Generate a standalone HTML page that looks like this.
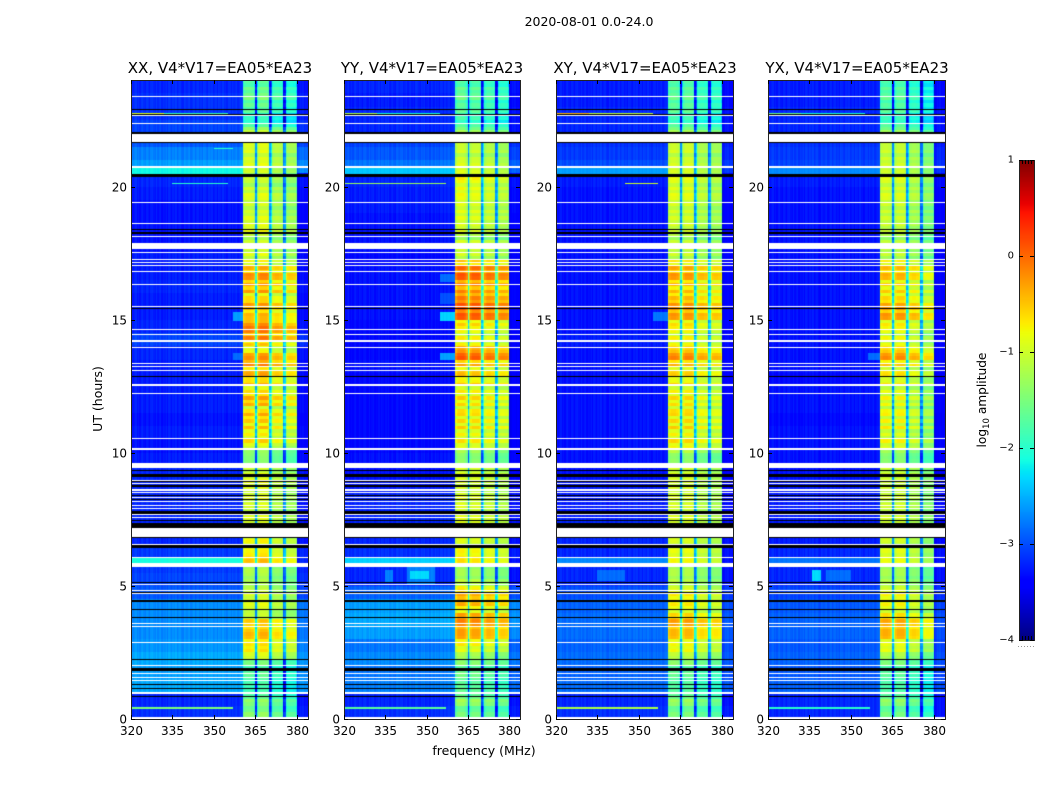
<!DOCTYPE html>
<html lang="en">
<head>
<meta charset="utf-8">
<title>2020-08-01 0.0-24.0</title>
<style>
html,body{margin:0;padding:0;background:#fff;}
#figure{position:relative;width:1050px;height:800px;overflow:hidden;background:#fff;}
canvas{position:absolute;display:block;}
svg{position:absolute;left:0;top:0;}
text{font-family:"DejaVu Sans","Liberation Sans",sans-serif;fill:#000;}
</style>
</head>
<body>
<div id="figure">
<canvas id="heat0" width="177" height="639" style="left:131px;top:80px"></canvas>
<canvas id="heat1" width="176" height="639" style="left:344px;top:80px"></canvas>
<canvas id="heat2" width="177" height="639" style="left:556px;top:80px"></canvas>
<canvas id="heat3" width="177" height="639" style="left:768px;top:80px"></canvas>
<canvas id="cbar" width="15" height="480" style="left:1019px;top:160px"></canvas>
<svg id="overlay" width="1050" height="800">
<text x="589" y="26" font-size="12.5" text-anchor="middle">2020-08-01 0.0-24.0</text>
<text x="220" y="73" font-size="15" text-anchor="middle">XX, V4*V17=EA05*EA23</text>
<text x="432" y="73" font-size="15" text-anchor="middle">YY, V4*V17=EA05*EA23</text>
<text x="645" y="73" font-size="15" text-anchor="middle">XY, V4*V17=EA05*EA23</text>
<text x="857" y="73" font-size="15" text-anchor="middle">YX, V4*V17=EA05*EA23</text>
<text x="484" y="755" font-size="12.5" text-anchor="middle">frequency (MHz)</text>
<text x="102" y="399" font-size="12.5" text-anchor="middle" transform="rotate(-90 102 399)">UT (hours)</text>
<text x="986" y="400" font-size="12.2" text-anchor="middle" transform="rotate(-90 986 400)">log<tspan dy="3" font-size="8.5">10</tspan><tspan dy="-3"> amplitude</tspan></text>
</svg>
</div>
<script>
/* ---------- axis tick labels ---------- */
const freqTicks = [320, 335, 350, 365, 380];
const hourTicks = [0, 5, 10, 15, 20];
const colorbarTicks = [1, 0, -1, -2, -3, -4];
const colorbarTickLabels = ["1", "0", "\u22121", "\u22122", "\u22123", "\u22124"];

/* ---------- flagged UT ranges, hours [from, to] ---------- */
const whiteFlags = [[23.36,23.40],[22.65,22.69],[22.35,22.39],[21.67,21.97],[20.69,20.77],[19.38,19.41],[18.59,18.62],[18.10,18.13],[17.64,17.87],[17.50,17.53],[17.24,17.27],[17.12,17.16],[17.01,17.04],[16.78,16.82],[16.29,16.33],[15.46,15.50],[14.60,14.64],[14.41,14.45],[14.15,14.22],[13.92,13.96],[13.32,13.36],[13.21,13.24],[13.06,13.09],[12.49,12.57],[12.19,12.23],[11.78,11.81],[10.53,10.57],[10.12,10.16],[9.44,9.63],[8.95,8.99],[8.84,8.88],[8.58,8.62],[8.50,8.54],[8.31,8.35],[8.16,8.20],[8.01,8.05],[7.90,7.94],[7.67,7.71],[7.56,7.60],[6.85,7.19],[6.55,6.58],[6.06,6.09],[5.72,5.87],[5.04,5.08],[4.81,4.85],[4.70,4.74],[3.57,3.61],[3.46,3.50],[2.86,2.90],[1.99,2.03],[1.69,1.73],[1.54,1.58],[1.43,1.47],[0.94,1.02],[0,0.07]];
const blackFlags = [[22.87,22.91],[22.69,22.72],[21.97,22.05],[21.63,21.67],[20.35,20.47],[18.36,18.40],[18.21,18.28],[15.39,15.42],[12.83,12.87],[9.33,9.37],[9.10,9.22],[8.92,8.95],[8.73,8.77],[8.39,8.43],[8.24,8.28],[7.71,7.83],[7.45,7.49],[7.19,7.37],[6.81,6.85],[6.43,6.55],[5.12,5.15],[4.74,4.78],[4.40,4.48],[4.10,4.14],[3.80,3.84],[2.22,2.26],[1.81,1.92],[1.28,1.32],[1.13,1.17],[0.83,0.87]];

/* ---------- per-channel offset (log10), 128 channels of 0.5 MHz from 320 MHz ---------- */
const channelOffset = [
 .05,-.04,.01,.06,-.05,.02,-.06,.04,.07,-.02,-.06,.05,.01,-.07,.04,.06,-.01,-.05,.07,-.04,
 .02,.06,-.06,.01,-.02,.05,-.07,.06,.02,-.05,.04,-.01,.07,-.06,.01,.05,-.04,-.07,.06,.02,
 -.02,.04,.07,-.05,-.01,.06,-.06,.02,.05,-.04,.01,-.07,.07,.04,-.02,-.06,.05,.01,.06,-.05,
 -.01,.04,-.07,.06,.02,-.04,.07,-.02,.01,-.06,.05,.04,-.05,.06,-.01,.02,.07,-.04,.01,.05,.06,
 -.15,0,.05,.05,.05,.05,0,-.05,-.2,-1.6,
 -.5,-.05,.05,.05,.05,.05,.05,0,-.1,-1.6,
 -1,-.1,0,.05,.05,.05,0,0,-.1,-1.6,
 -1.3,-.2,0,.03,.03,.03,0,0,-.25,
 -.35,-.15,-.05,-.1,-.05,-.15,-.1,-.15];
const subBandFirstChannel = [81, 91, 101, 111];
const bandEndChannel = 120;
const subBandGain = [
 [0, .05, -.2, -.3],
 [.05, 0, -.1, -.2],
 [.05, .05, -.15, -.2],
 [.05, .05, -.15, -.35]];

/* ---------- in-band log10 amplitude, one value per quarter hour from 0 UT ---------- */
const bandXX = [
 -1.45,-1.6,-1.5,-1.7, -1.9,-1.9,-1.7,-1.9, -1.6,-1.0,-.8,-.75, -.55,-.6,-.7,-1.1,
 -1.05,-1.0,-1.05,-1.1, -1.3,-1.3,-1.2,-.6, -.7,-.9,-.85,-1.0, -1,-.95,-1,-1.05,
 -1,-1,-1.05,-.9, -1.0,-1.05,-1.45,-1.5, -1.2,-.8,-.85,-.7, -.75,-.55,-.9,-.5,
 -.55,-.8,-.6,-.5, -.55,-.35,-.45,-.75, -.65,-.35,-.3,-.35, -.6,-.55,-.5,-.75,
 -.5,-.45,-.4,-.5, -.9,-1.0,-1.1,-1.1, -1.2,-.9,-1,-1.0, -1.1,-1.1,-1.0,-1.05,
 -1.2,-1.2,-1.05,-1.0, -1.1,-1.0,-1.0,-.9, -1.3,-1.9,-2.0,-1.8, -1.7,-1.6,-1.7,-1.8];
const bandYY = [
 -1.6,-1.7,-1.4,-1.6, -1.7,-1.8,-1.6,-1.8, -1.5,-1.3,-1.0,-.8, -.45,-.4,-.35,-.35,
 -.85,-.5,-.5,-.7, -1.2,-1.35,-1.3,-.8, -.8,-.9,-1.0,-1.0, -1,-.9,-1,-1,
 -1,-1,-1.1,-1, -1,-1,-1.4,-1.5, -1.1,-.9,-.9,-.8, -.85,-.8,-.9,-.75,
 -.8,-.9,-.7,-.65, -.7,-.55,-.15,-.2, -.9,-.95,-1,-.7, -.1,-.05,-.15,-.25,
 -.4,-.3,-.15,-.15, -.65,-1.1,-1.1,-1.05, -1.3,-1.0,-1.05,-1.0, -1.0,-1.05,-.95,-.9,
 -.95,-.9,-1,-1.05, -1.2,-1.1,-1.15,-1.1, -1.5,-1.9,-1.9,-1.8, -1.8,-1.7,-1.75,-1.85];
const bandXY = [
 -1.6,-1.7,-1.45,-1.65, -1.8,-1.85,-1.7,-1.85, -1.5,-1.2,-.95,-.9, -.6,-.55,-.5,-.65,
 -.95,-.85,-.85,-.95, -1.25,-1.3,-1.25,-.95, -.95,-1.0,-1.05,-1.05, -1.05,-1,-1.05,-1.05,
 -1.05,-1.05,-1.1,-1.05, -1.05,-1.05,-1.4,-1.5, -1.0,-.85,-.9,-.8, -.85,-.8,-.9,-.8,
 -.85,-.95,-.8,-.75, -.8,-.65,-.4,-.45, -.95,-1,-1,-.8, -.45,-.4,-.5,-.6,
 -.7,-.6,-.5,-.5, -.85,-1.15,-1.2,-1.15, -1.3,-1.1,-1.1,-1.1, -1.1,-1.1,-1.0,-1.0,
 -1.05,-1.05,-1.05,-1.1, -1.2,-1.1,-1.15,-1.15, -1.5,-1.9,-1.95,-1.8, -1.8,-1.75,-1.8,-1.85];
const bandYX = [
 -1.65,-1.75,-1.5,-1.7, -1.85,-1.9,-1.75,-1.9, -1.6,-1.3,-1.0,-.95, -.55,-.5,-.55,-.7,
 -1.0,-.9,-.9,-1.0, -1.3,-1.35,-1.3,-1.0, -1.0,-1.05,-1.1,-1.1, -1.1,-1.05,-1.1,-1.1,
 -1.1,-1.1,-1.15,-1.1, -1.1,-1.1,-1.45,-1.55, -1.15,-1.0,-1.05,-.95, -1.0,-.95,-1.05,-.95,
 -1.0,-1.05,-.9,-.85, -.9,-.75,-.45,-.5, -1.0,-1.05,-1.05,-.85, -.45,-.45,-.6,-.75,
 -.8,-.75,-.65,-.6, -.9,-1.2,-1.25,-1.2, -1.35,-1.15,-1.15,-1.15, -1.15,-1.15,-1.05,-1.05,
 -1.1,-1.1,-1.1,-1.15, -1.2,-1.15,-1.2,-1.2, -1.55,-1.9,-2.0,-1.85, -1.85,-1.8,-1.85,-1.9];

/* ---------- in-band row striping shared by all panels, one estimate per eighth of an hour from 0 UT ---------- */
const bandRowDetail = [
 0,.05,0,-.05,0,.1,0,-.1,  0,-.05,.05,0,-.05,0,.05,0,  .05,0,-.05,.05,.1,0,.05,-.05,
 .05,.1,.05,-.1,.1,.15,-.05,0,  -.1,.05,.1,0,-.05,.1,0,-.1,  0,.05,-.05,.05,0,-.1,.05,.1,
 .05,-.05,.1,0,-.1,.05,0,0,  .1,-.1,.05,-.05,.1,0,-.1,.05,  .05,-.1,.1,-.05,0,.1,-.1,.05,
 0,.1,-.1,.05,0,-.05,0,.05,  -.2,.15,-.1,.2,-.15,.1,-.2,.2,  -.15,.2,-.2,.15,.2,-.2,.1,-.15,
 .2,-.2,.15,-.15,.2,-.1,-.2,.15,  .15,-.2,.2,-.1,.2,.1,-.1,-.2,  .1,-.15,.2,-.2,.15,.2,.1,-.15,
 .1,.15,-.2,.1,.2,-.15,.1,-.2,  .2,-.15,.15,-.2,.15,.2,-.2,.1,  -.1,.1,-.15,.1,-.05,.1,-.1,.05,
 -.1,.1,.05,-.1,.1,-.05,.1,-.1,  .1,-.1,.1,-.05,.05,.1,-.1,.05,  -.1,.1,.15,-.1,.05,-.05,.1,0,
 .15,-.05,.1,0,.05,.15,.1,-.1,  .2,-.1,.1,-.15,.05,-.1,.1,-.05,  .05,-.1,.1,0,-.05,.1,-.05,.05];

/* ---------- off-band log10 amplitude, one value per half hour from 0 UT ---------- */
const backgroundXX = [
 -3.15,-3.2,-2.55,-2.6,-2.55,-2.65, -2.7,-2.7,-2.7,-2.95,-3.05,-3.1,
 -3.1,-3.2,-3.2,-3.2,-3.2,-3.2, -3.2,-3.25,-3.3,-3.25,-3.3,-3.25,
 -3.25,-3.25,-3.25,-3.2,-3.05,-3.2, -3.25,-3.25,-3.2,-3.25,-3.25,-3.3,
 -3.3,-3.3,-3.3,-3.25,-3.2,-2.6, -2.75,-2.95,-3.05,-3.15,-3.15,-3.2];
const backgroundYY = [
 -3.15,-3.2,-2.75,-2.8,-2.7,-2.8, -2.6,-2.55,-2.6,-2.9,-3.2,-3.2,
 -3.15,-3.2,-3.2,-3.2,-3.2,-3.25, -3.3,-3.3,-3.35,-3.35,-3.35,-3.35,
 -3.35,-3.35,-3.3,-3.35,-3.35,-3.35, -3.3,-3.3,-3.3,-3.3,-3.35,-3.3,
 -3.3,-3.3,-3.25,-3.25,-3.2,-2.8, -2.95,-3.05,-3.2,-3.2,-3.25,-3.2];
const backgroundXY = [
 -3.15,-3.2,-2.85,-2.9,-2.85,-2.9, -2.85,-2.85,-2.9,-3.0,-3.2,-3.2,
 -3.2,-3.2,-3.2,-3.25,-3.25,-3.25, -3.3,-3.3,-3.3,-3.3,-3.3,-3.3,
 -3.3,-3.3,-3.3,-3.3,-3.25,-3.3, -3.3,-3.3,-3.3,-3.3,-3.3,-3.3,
 -3.3,-3.3,-3.3,-3.3,-3.25,-3.0, -3.1,-3.15,-3.2,-3.2,-3.25,-3.25];
const backgroundYX = [
 -3.2,-3.2,-2.9,-2.95,-2.9,-2.95, -2.9,-2.9,-2.95,-3.05,-3.2,-3.2,
 -3.2,-3.25,-3.25,-3.25,-3.25,-3.25, -3.3,-3.3,-3.3,-3.3,-3.35,-3.3,
 -3.3,-3.35,-3.3,-3.3,-3.3,-3.3, -3.3,-3.3,-3.3,-3.3,-3.3,-3.3,
 -3.3,-3.3,-3.3,-3.3,-3.25,-3.05, -3.1,-3.15,-3.2,-3.2,-3.25,-3.25];

/* ---------- localised features: [panel, hourFrom, hourTo, freqFrom, freqTo, log10 amplitude]; first match wins ---------- */
const interferencePatches = [
 [0,5.87,6.06,320,360.5,-2.1],[1,5.87,6.06,320,360.5,-2.35],[2,5.87,6.06,320,360.5,-2.7],[3,5.87,6.06,320,360.5,-2.8],
 [0,20.47,20.69,320,360.5,-2.15],[1,20.47,20.69,320,360.5,-2.4],[2,20.47,20.69,320,360.5,-2.6],[3,20.47,20.69,320,360.5,-2.7],
 [0,22.70,22.76,320,332,-.9],[0,22.70,22.76,332,355,-1.9],[0,0.38,0.44,320,357,-1.5],[0,20.08,20.14,335,355,-2],[0,21.40,21.46,350,357,-2],
 [1,22.70,22.76,320,332,-1.2],[1,22.70,22.76,332,355,-2.1],[1,20.08,20.14,320,357,-1.3],[1,0.38,0.44,320,357,-1.7],
 [2,22.70,22.76,320,332,-.4],[2,22.70,22.76,332,355,-1.1],[2,20.08,20.14,345,357,-1],[2,0.38,0.44,320,357,-1.2],
 [3,22.70,22.76,320,332,-1.6],[3,22.70,22.76,332,355,-2.1],[3,0.38,0.44,320,357,-2],
 [0,13.5,13.75,357,360.5,-2.85],[0,14.95,15.3,357,360.5,-2.6],
 [1,5.25,5.55,344,351,-2.3],[1,5.05,5.75,343,353,-2.75],[1,5.15,5.6,335,338,-2.75],
 [1,13.5,13.75,355,360.5,-2.6],[1,14.95,15.3,355,360.5,-2.35],[1,16.4,16.7,355,360.5,-2.85],[1,15.6,16,355,360.5,-3],
 [2,5.2,5.6,335,345,-2.85],[2,14.95,15.3,355,360.5,-2.8],
 [3,5.2,5.6,336,339,-2.3],[3,5.2,5.6,341,350,-2.85],[3,13.5,13.75,356,360.5,-2.85]];

const bandByPanel = [bandXX, bandYY, bandXY, bandYX];
const backgroundByPanel = [backgroundXX, backgroundYY, backgroundXY, backgroundYX];

/* ---------- scales ---------- */
const axesLeft = [131, 344, 556, 768];
const axesWidths = [177, 176, 177, 177];
const axesTop = 80, axesHeight = 639;
const FREQ_MIN = 320, FREQ_MAX = 384, HOUR_MAX = 24, VALUE_MIN = -4, VALUE_MAX = 1;
const CB_LEFT = 1019, CB_TOP = 160, CB_WIDTH = 15, CB_HEIGHT = 480;
function xScale(f, w){return (f - FREQ_MIN) / (FREQ_MAX - FREQ_MIN) * w;}
function yScale(h){return axesHeight - h / HOUR_MAX * axesHeight;}
function xInvert(px, w){return FREQ_MIN + px / w * (FREQ_MAX - FREQ_MIN);}
function yInvert(px){return (axesHeight - px) / axesHeight * HOUR_MAX;}
function cbScale(v){return CB_TOP + (VALUE_MAX - v) / (VALUE_MAX - VALUE_MIN) * CB_HEIGHT;}

/* matplotlib jet colormap */
function segment(pts, t){
  for(let i = 1; i < pts.length; i++){
    if(t <= pts[i][0]){
      const a = pts[i-1], b = pts[i];
      return a[1] + (b[1]-a[1]) * (t-a[0]) / (b[0]-a[0]);
    }
  }
  return pts[pts.length-1][1];
}
function jet(v){
  const t = Math.min(1, Math.max(0, (v - VALUE_MIN) / (VALUE_MAX - VALUE_MIN)));
  return [
    255 * segment([[0,0],[.35,0],[.66,1],[.89,1],[1,.5]], t),
    255 * segment([[0,0],[.125,0],[.375,1],[.64,1],[.91,0],[1,0]], t),
    255 * segment([[0,.5],[.11,1],[.34,1],[.65,0],[1,0]], t)
  ];
}
function inRanges(ranges, h){
  for(const r of ranges){ if(h >= r[0] && h < r[1]) return true; }
  return false;
}
function cellValue(panel, h, f){
  const ch = Math.min(channelOffset.length - 1, Math.floor((f - FREQ_MIN) / 0.5));
  if(ch >= subBandFirstChannel[0] && ch < bandEndChannel){
    let sub = 0;
    for(let s = 0; s < subBandFirstChannel.length; s++){ if(ch >= subBandFirstChannel[s]) sub = s; }
    const series = bandByPanel[panel];
    const level = series[Math.min(series.length - 1, Math.floor(h * 4))];
    const detail = bandRowDetail[Math.min(bandRowDetail.length - 1, Math.floor(h * 8))];
    return level + detail + subBandGain[panel][sub] + channelOffset[ch];
  }
  for(const p of interferencePatches){
    if(p[0] === panel && h >= p[1] && h < p[2] && f >= p[3] && f < p[4]) return p[5] + channelOffset[ch] * 0.5;
  }
  const bg = backgroundByPanel[panel];
  return bg[Math.min(bg.length - 1, Math.floor(h * 2))] + channelOffset[ch];
}
function drawPanel(panel){
  const w = axesWidths[panel];
  const ctx = document.getElementById('heat' + panel).getContext('2d');
  const img = ctx.createImageData(w, axesHeight);
  for(let row = 0; row < axesHeight; row++){
    const h = yInvert(row + .5);
    const white = inRanges(whiteFlags, h), black = inRanges(blackFlags, h);
    for(let col = 0; col < w; col++){
      const k = (row * w + col) * 4;
      let c;
      if(white) c = [255,255,255];
      else if(black) c = [0,0,0];
      else c = jet(cellValue(panel, h, xInvert(col + .5, w)));
      img.data[k] = c[0]; img.data[k+1] = c[1]; img.data[k+2] = c[2]; img.data[k+3] = 255;
    }
  }
  ctx.putImageData(img, 0, 0);
}
function drawColorbar(){
  const ctx = document.getElementById('cbar').getContext('2d');
  for(let r = 0; r < CB_HEIGHT; r++){
    const v = VALUE_MAX - (r + .5) / CB_HEIGHT * (VALUE_MAX - VALUE_MIN);
    const c = jet(v);
    ctx.fillStyle = 'rgb(' + Math.round(c[0]) + ',' + Math.round(c[1]) + ',' + Math.round(c[2]) + ')';
    ctx.fillRect(0, r, CB_WIDTH, 1);
  }
}

/* ---------- overlay helpers ---------- */
const overlay = document.getElementById('overlay');
const NS = 'http://www.w3.org/2000/svg';
function line(x1, y1, x2, y2){
  const el = document.createElementNS(NS, 'line');
  el.setAttribute('x1', x1); el.setAttribute('y1', y1);
  el.setAttribute('x2', x2); el.setAttribute('y2', y2);
  el.setAttribute('stroke', '#000');
  el.setAttribute('stroke-width', '1');
  overlay.appendChild(el);
  return el;
}
function label(x, y, str, anchor){
  const el = document.createElementNS(NS, 'text');
  el.setAttribute('x', x); el.setAttribute('y', y);
  el.setAttribute('font-size', '12');
  el.setAttribute('text-anchor', anchor);
  el.textContent = str;
  overlay.appendChild(el);
  return el;
}
function drawAxes(panel){
  const w = axesWidths[panel];
  const L = axesLeft[panel], T = axesTop, B = axesTop + axesHeight, R = L + w;
  const frame = document.createElementNS(NS, 'rect');
  
  
  frame.setAttribute('x', L + .5); frame.setAttribute('y', T + .5);
  frame.setAttribute('width', w); frame.setAttribute('height', axesHeight);
  frame.setAttribute('fill', 'none');
  frame.setAttribute('stroke', '#222');
  overlay.appendChild(frame);
  for(const f of freqTicks){
    const x = Math.round(L + xScale(f, w)) + .5;
    const bottomTick = line(x, B, x, B - 4);
    
    
    const topTick = line(x, T, x, T + 4);
    
    
    const t = label(x, B + 16, String(f), 'middle');
    
    
  }
  for(const h of hourTicks){
    const y = Math.round(T + yScale(h)) + .5;
    const leftTick = line(L, y, L + 4, y);
    
    
    const rightTick = line(R, y, R - 4, y);
    
    
    const t = label(L - 4, y + 4, String(h), 'end');
    
    
  }
}
function drawColorbarAxis(){
  const frame = document.createElementNS(NS, 'rect');
  
  
  frame.setAttribute('x', CB_LEFT + .5); frame.setAttribute('y', CB_TOP + .5);
  frame.setAttribute('width', CB_WIDTH); frame.setAttribute('height', CB_HEIGHT);
  frame.setAttribute('fill', 'none');
  frame.setAttribute('stroke', '#222');
  overlay.appendChild(frame);
  colorbarTicks.forEach(function(v, i){
    const y = Math.round(cbScale(v)) + .5;
    const leftTick = line(CB_LEFT, y, CB_LEFT + 4, y);
    
    
    const rightTick = line(CB_LEFT + CB_WIDTH, y, CB_LEFT + CB_WIDTH - 4, y);
    
    
    const t = label(CB_LEFT - 5, y + 2, colorbarTickLabels[i], 'end');
    t.setAttribute('font-size', '10');
    
    
  });
  for(let x = CB_LEFT + 3; x < CB_LEFT + CB_WIDTH; x += 3){
    const upper = line(x + .5, CB_TOP, x + .5, CB_TOP + 4);
    
    
    const lower = line(x + .5, CB_TOP + CB_HEIGHT, x + .5, CB_TOP + CB_HEIGHT - 4);
    
    
  }
  const dots = line(CB_LEFT - 1, CB_TOP + CB_HEIGHT + 6.5, CB_LEFT + CB_WIDTH + 1, CB_TOP + CB_HEIGHT + 6.5);
  dots.setAttribute('stroke', '#999');
  dots.setAttribute('stroke-dasharray', '1 2');
  
  
}

bandByPanel.forEach(function(_, p){ drawPanel(p); drawAxes(p); });
drawColorbar();
drawColorbarAxis();
</script>
</body>
</html>
